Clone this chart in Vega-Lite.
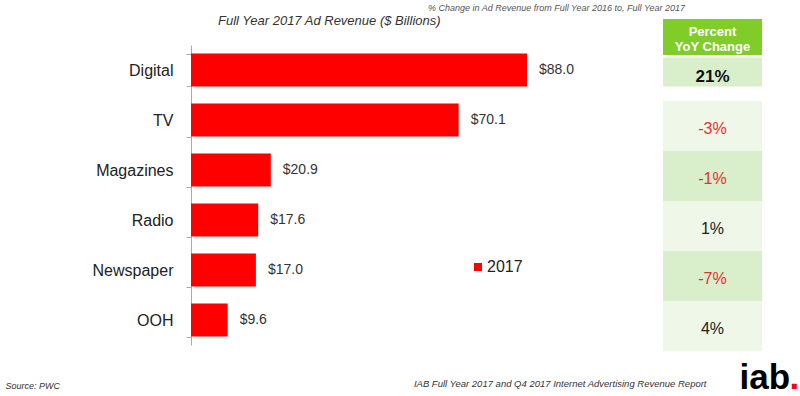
{
  "$schema": "https://vega.github.io/schema/vega-lite/v6.json",
  "background": "white",
  "padding": {"left": 5, "top": 4, "right": 0, "bottom": 0},
  "bounds": "flush",
  "spacing": 52,
  "config": {
    "view": {"stroke": null},
    "font": "Liberation Sans",
    "locale": {"number": {"decimal": ".", "thousands": ",", "grouping": [3], "currency": ["$", ""], "minus": "-"}}
  },
  "datasets": {
    "rev": [
      {"channel": "Digital", "revenue": 88.0, "year": "2017"},
      {"channel": "TV", "revenue": 70.1, "year": "2017"},
      {"channel": "Magazines", "revenue": 20.9, "year": "2017"},
      {"channel": "Radio", "revenue": 17.6, "year": "2017"},
      {"channel": "Newspaper", "revenue": 17.0, "year": "2017"},
      {"channel": "OOH", "revenue": 9.6, "year": "2017"}
    ],
    "yoy": [
      {"cat": "header"},
      {"cat": "Digital", "pct": 0.21},
      {"cat": "TV", "pct": -0.03},
      {"cat": "Magazines", "pct": -0.01},
      {"cat": "Radio", "pct": 0.01},
      {"cat": "Newspaper", "pct": -0.07},
      {"cat": "OOH", "pct": 0.04}
    ]
  },
  "hconcat": [
    {
      "width": 420,
      "height": 300,
      "data": {"name": "rev"},
      "title": {"text": "Full Year 2017 Ad Revenue ($ Billions)", "anchor": "start", "frame": "group", "dx": 27, "offset": 9, "fontSize": 13, "fontStyle": "italic", "fontWeight": "normal", "color": "#333333"},
      "encoding": {
        "y": {"field": "channel", "type": "nominal", "sort": null,
          "scale": {"paddingInner": 0.34, "paddingOuter": 0.17},
          "axis": {"title": ".", "titleAngle": 0, "titleX": 598, "titleY": 343, "titleAlign": "left", "titleBaseline": "alphabetic", "titleFontSize": 35, "titleFontWeight": "bold", "titleColor": "#ff0000",
            "domainColor": "#aaaaaa", "tickColor": "#aaaaaa", "tickBand": "extent", "tickSize": 5, "labelFontSize": 16, "labelColor": "#222222", "labelPadding": 13, "grid": false}},
        "x": {"field": "revenue", "type": "quantitative", "scale": {"domain": [0, 110]},
          "axis": {"labels": false, "ticks": false, "domain": false, "grid": false, "title": "Source: PWC", "titleAnchor": "start", "titleAlign": "left", "titleX": -186, "titleY": 43, "titleBaseline": "alphabetic", "titleFontSize": 9, "titleFontStyle": "italic", "titleFontWeight": "normal", "titleColor": "#333333"}}
      },
      "layer": [
        {"mark": {"type": "bar"},
         "encoding": {"color": {"field": "year", "type": "nominal", "scale": {"range": ["#ff0000"]},
           "legend": {"title": null, "orient": "none", "legendX": 279, "legendY": 214, "symbolType": "square", "symbolSize": 64, "symbolStrokeWidth": 0, "labelFontSize": 16, "labelColor": "#222222", "padding": 0, "labelOffset": 1}}}},
        {"mark": {"type": "text", "align": "left", "dx": 12, "fontSize": 14, "color": "#333333"},
         "encoding": {"text": {"field": "revenue", "type": "quantitative", "format": "$.1f"}}}
      ]
    },
    {
      "width": 99,
      "height": 300,
      "data": {"name": "yoy"},
      "title": {"text": "% Change in Ad Revenue from Full Year 2016 to, Full Year 2017", "anchor": "start", "frame": "group", "dx": -235, "offset": 6, "fontSize": 9, "fontStyle": "italic", "fontWeight": "normal", "color": "#555555"},
      "encoding": {
        "y": {"field": "cat", "type": "nominal", "sort": null,
          "scale": {"domain": ["header", "Digital", "TV", "Magazines", "Radio", "Newspaper", "OOH"], "range": [-44, 306], "paddingInner": 0, "paddingOuter": 0},
          "axis": {"orient": "right", "labels": false, "ticks": false, "domain": false, "grid": false, "title": "iab", "titleAngle": 0, "titleX": -23, "titleY": 343, "titleAlign": "left", "titleBaseline": "alphabetic", "titleFontSize": 35, "titleFontWeight": "bold", "titleColor": "#000000"}},
        "x": {"datum": 0, "type": "quantitative", "scale": {"domain": [0, 1]},
          "axis": {"labels": false, "ticks": false, "domain": false, "grid": false, "title": "IAB Full Year 2017 and Q4 2017 Internet Advertising Revenue Report", "titleAnchor": "start", "titleAlign": "right", "titleX": 43, "titleY": 41, "titleBaseline": "alphabetic", "titleFontSize": 9.5, "titleFontStyle": "italic", "titleFontWeight": "normal", "titleColor": "#333333"}},
        "x2": {"datum": 1}
      },
      "layer": [
        {"transform": [{"filter": "datum.cat !== 'header' && datum.cat !== 'Digital'"}],
         "mark": {"type": "rect"},
         "encoding": {"color": {"condition": {"test": "indexof(['Magazines','Newspaper'], datum.cat) >= 0", "value": "#d9eecb"}, "value": "#eef7e8"}}},
        {"transform": [{"filter": "datum.cat === 'Digital'"}],
         "mark": {"type": "rect", "height": 29, "yOffset": -4, "color": "#d9eecb"}},
        {"transform": [{"filter": "datum.cat === 'header'"}],
         "mark": {"type": "rect", "height": 36, "yOffset": 11, "color": "#80cc28"}},
        {"transform": [{"filter": "datum.cat === 'header'"}],
         "mark": {"type": "text", "text": ["Percent", "YoY Change"], "fontSize": 13, "fontWeight": "bold", "color": "#ffffff", "yOffset": 6, "lineHeight": 15, "baseline": "middle"},
         "encoding": {"x": {"datum": 0.5, "type": "quantitative"}, "x2": null}},
        {"transform": [{"filter": "datum.cat === 'Digital'"}],
         "mark": {"type": "text", "fontSize": 17, "fontWeight": "bold", "color": "#111111", "baseline": "middle", "yOffset": 1},
         "encoding": {"x": {"datum": 0.5, "type": "quantitative"}, "x2": null, "text": {"field": "pct", "type": "quantitative", "format": ".0%"}}},
        {"transform": [{"filter": "datum.cat !== 'header' && datum.cat !== 'Digital'"}],
         "mark": {"type": "text", "fontSize": 16, "baseline": "middle", "yOffset": 3},
         "encoding": {"x": {"datum": 0.5, "type": "quantitative"}, "x2": null, "text": {"field": "pct", "type": "quantitative", "format": ".0%"},
           "color": {"condition": {"test": "datum.pct < 0", "value": "#e8312f"}, "value": "#222222"}}}
      ]
    }
  ]
}
